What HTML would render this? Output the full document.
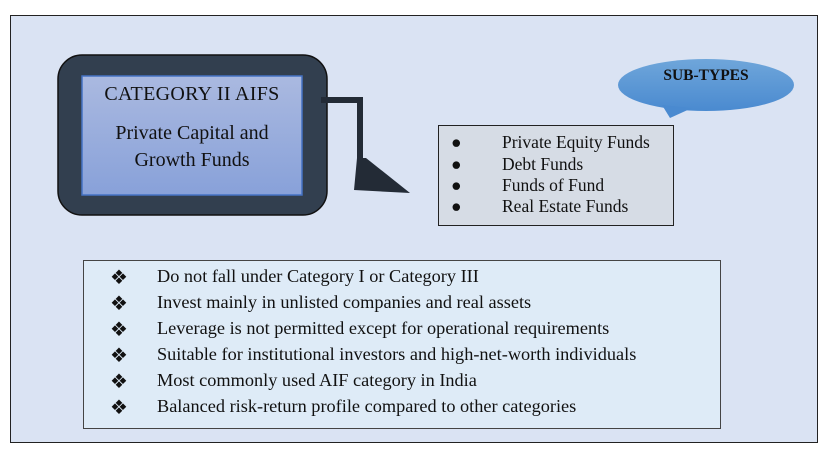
<!DOCTYPE html>
<html><head><style>
body{margin:0;width:827px;height:457px;background:#fff;position:relative;overflow:hidden;font-family:"Liberation Serif",serif;}
.frame{position:absolute;left:10px;top:15px;width:806px;height:426px;border:1.5px solid #222;background:#dae3f3;}
.abs{position:absolute;}
.sub{left:438px;top:125px;width:234px;height:99px;background:#d6dce5;border:1.5px solid #222;}
.sub div{position:absolute;left:0;font-size:17.5px;color:#111;}
.bot{left:83px;top:260px;width:636px;height:167px;background:#deebf7;border:1px solid #444;}
.row{position:absolute;font-size:18.3px;color:#111;white-space:nowrap;}
.dm{font-size:20px;}
</style></head><body>
<div class="frame"></div>
<svg class="abs" style="left:0;top:0" width="827" height="457">
<defs>
<linearGradient id="g1" x1="0" y1="0" x2="0" y2="1"><stop offset="0" stop-color="#aab9e0"/><stop offset="1" stop-color="#88a1d9"/></linearGradient>
<linearGradient id="g2" x1="0" y1="0" x2="0" y2="1"><stop offset="0" stop-color="#6fa6da"/><stop offset="1" stop-color="#4a8ad0"/></linearGradient>
</defs>
<rect x="58" y="55" width="269" height="160" rx="24" fill="#323f4f" stroke="#111" stroke-width="1.5"/>
<rect x="82" y="76" width="220" height="119" fill="url(#g1)" stroke="#4472c4" stroke-width="1.5"/>
<path d="M321 97 H363 V160 H357 V103 H321 Z" fill="#232b36"/>
<polygon points="357,158 366,158 410,193 354,190" fill="#232b36"/>
<ellipse cx="706" cy="85" rx="88" ry="26" fill="url(#g2)"/>
<polygon points="662,105 692,108 670,118" fill="#4a8ad0"/>
</svg>
<div class="abs" style="left:82px;top:83px;width:220px;text-align:center;font-size:20px;letter-spacing:0.3px;color:#111;">CATEGORY II AIFS</div>
<div class="abs" style="left:82px;top:120px;width:220px;text-align:center;font-size:20px;line-height:27px;color:#111;">Private Capital and<br>Growth Funds</div>
<div class="abs" style="left:618px;top:67px;width:176px;text-align:center;font-size:15.5px;font-weight:bold;color:#111;">SUB-TYPES</div>
<div class="abs sub">
<div style="top:6px;left:12px">●</div><div style="top:6px;left:63px">Private Equity Funds</div>
<div style="top:28px;left:12px">●</div><div style="top:28px;left:63px">Debt Funds</div>
<div style="top:49px;left:12px">●</div><div style="top:49px;left:63px">Funds of Fund</div>
<div style="top:70px;left:12px">●</div><div style="top:70px;left:63px">Real Estate Funds</div>
</div>
<div class="abs bot">
<div class="row dm" style="top:4px;left:26px">❖</div><div class="row" style="top:5px;left:73px">Do not fall under Category I or Category III</div>
<div class="row dm" style="top:30px;left:26px">❖</div><div class="row" style="top:31px;left:73px">Invest mainly in unlisted companies and real assets</div>
<div class="row dm" style="top:56px;left:26px">❖</div><div class="row" style="top:57px;left:73px">Leverage is not permitted except for operational requirements</div>
<div class="row dm" style="top:82px;left:26px">❖</div><div class="row" style="top:83px;left:73px">Suitable for institutional investors and high-net-worth individuals</div>
<div class="row dm" style="top:108px;left:26px">❖</div><div class="row" style="top:109px;left:73px">Most commonly used AIF category in India</div>
<div class="row dm" style="top:134px;left:26px">❖</div><div class="row" style="top:135px;left:73px">Balanced risk-return profile compared to other categories</div>
</div>
</body></html>
